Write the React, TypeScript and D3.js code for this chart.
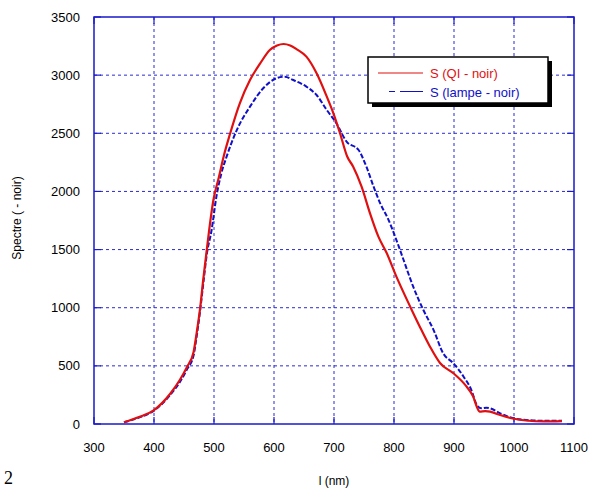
import React from "react";
import * as d3 from "d3";

const xTicks = [300, 400, 500, 600, 700, 800, 900, 1000, 1100];
const yTicks = [0, 500, 1000, 1500, 2000, 2500, 3000, 3500];

const lambdaQI = [350, 375, 400, 427, 443, 455, 466, 471, 477, 482, 488, 492, 499, 508, 516, 527, 543, 560, 577, 593, 605, 616, 627, 638, 654, 671, 688, 699, 710, 722, 732, 746, 760, 774, 788, 804, 827, 843, 860, 877, 899, 921, 932, 938, 943, 952, 960, 977, 1000, 1020, 1050, 1080];
const valuesQI = [15, 60, 120, 260, 378, 490, 620, 780, 1000, 1240, 1500, 1670, 1926, 2120, 2299, 2500, 2758, 2958, 3101, 3216, 3255, 3268, 3255, 3222, 3159, 3016, 2815, 2672, 2500, 2300, 2213, 2041, 1812, 1611, 1468, 1267, 1009, 837, 665, 522, 436, 321, 235, 149, 106, 110, 106, 77, 45, 30, 22, 25];

const lambdaLampe = [350, 375, 400, 427, 443, 455, 466, 471, 477, 482, 488, 496, 504, 512, 521, 538, 560, 582, 604, 618, 632, 654, 671, 688, 704, 721, 741, 754, 766, 777, 791, 804, 816, 832, 849, 866, 882, 899, 916, 929, 938, 946, 954, 960, 977, 999, 1020, 1050, 1080];
const valuesLampe = [15, 55, 115, 250, 360, 470, 590, 750, 980, 1200, 1460, 1668, 1955, 2150, 2299, 2528, 2729, 2887, 2973, 2987, 2958, 2901, 2829, 2700, 2586, 2428, 2356, 2213, 2041, 1898, 1754, 1582, 1410, 1181, 980, 808, 608, 522, 407, 292, 163, 135, 140, 135, 92, 49, 35, 28, 28];

const seriesNames = ["S (QI - noir)", "S (lampe - noir)"];

const W = 593, H = 488;
const L = 94, R = 574, T = 17, B = 424;
const GRID = "#2b2bd0";
const AXIS = "#1a1acc";
const RED = "#e01010";
const BLUE = "#1010c8";
const FONT = "'Liberation Sans', Arial, sans-serif";

export default function App() {
  const x = d3.scaleLinear().domain([300, 1100]).range([L, R]);
  const y = d3.scaleLinear().domain([0, 3500]).range([B, T]);
  const line = d3
    .line<[number, number]>()
    .x((d) => x(d[0]))
    .y((d) => y(d[1]))
    .curve(d3.curveMonotoneX);
  const qi = lambdaQI.map((l, i) => [l, valuesQI[i]] as [number, number]);
  const la = lambdaLampe.map((l, i) => [l, valuesLampe[i]] as [number, number]);
  const tk = 7;

  return (
    <svg
      width={W}
      height={H}
      style={{ position: "absolute", left: 0, top: 0, background: "#fff" }}
      fontFamily={FONT}
    >
      <rect x={0} y={0} width={W} height={H} fill="#fff" />
      {/* grid */}
      {xTicks.slice(1, -1).map((t) => (
        <line key={"gx" + t} x1={x(t)} x2={x(t)} y1={T} y2={B} stroke={GRID} strokeWidth={1} strokeDasharray="3,3" />
      ))}
      {yTicks.slice(1, -1).map((t) => (
        <line key={"gy" + t} x1={L} x2={R} y1={y(t)} y2={y(t)} stroke={GRID} strokeWidth={1} strokeDasharray="3,3" />
      ))}
      {/* ticks */}
      {xTicks.map((t) => (
        <g key={"tx" + t}>
          <line x1={x(t)} x2={x(t)} y1={B} y2={B - tk} stroke={AXIS} strokeWidth={1.2} />
          <line x1={x(t)} x2={x(t)} y1={T} y2={T + tk} stroke={AXIS} strokeWidth={1.2} />
          <text x={x(t)} y={B + 28} textAnchor="middle" fontSize={13} fill="#000">
            {t}
          </text>
        </g>
      ))}
      {yTicks.map((t) => (
        <g key={"ty" + t}>
          <line x1={L} x2={L + tk} y1={y(t)} y2={y(t)} stroke={AXIS} strokeWidth={1.2} />
          <line x1={R} x2={R - tk} y1={y(t)} y2={y(t)} stroke={AXIS} strokeWidth={1.2} />
          <text x={80} y={y(t) + 4.5} textAnchor="end" fontSize={13} fill="#000">
            {t}
          </text>
        </g>
      ))}
      {/* series */}
      <path d={line(la) || ""} fill="none" stroke={BLUE} strokeWidth={2} strokeDasharray="5,2" />
      <path d={line(qi) || ""} fill="none" stroke={RED} strokeWidth={2.2} />
      {/* frame */}
      <rect x={L} y={T} width={R - L} height={B - T} fill="none" stroke={AXIS} strokeWidth={1.5} />
      {/* legend */}
      <rect x={372} y={61} width={180} height={46} fill="#000" />
      <rect x={368} y={57} width={180} height={46} fill="#fff" stroke="#000" strokeWidth={1.5} />
      <line x1={378} x2={423} y1={73} y2={73} stroke={RED} strokeWidth={1.2} />
      <text x={430} y={78} fontSize={13} fill={RED}>
        {seriesNames[0]}
      </text>
      <line x1={389} x2={423} y1={91.5} y2={91.5} stroke={BLUE} strokeWidth={1.2} strokeDasharray="6,5,23,5" />
      <text x={430} y={97} fontSize={13} fill={BLUE}>
        {seriesNames[1]}
      </text>
      {/* axis labels */}
      <text x={334} y={485} textAnchor="middle" fontSize={12} fill="#000">
        l (nm)
      </text>
      <text transform="translate(21,218) rotate(-90)" textAnchor="middle" fontSize={12} fill="#000">
        Spectre ( - noir)
      </text>
      <text x={4} y={484} fontSize={18} fontFamily="'Liberation Serif', 'Times New Roman', serif" fill="#000">
        2
      </text>
    </svg>
  );
}
